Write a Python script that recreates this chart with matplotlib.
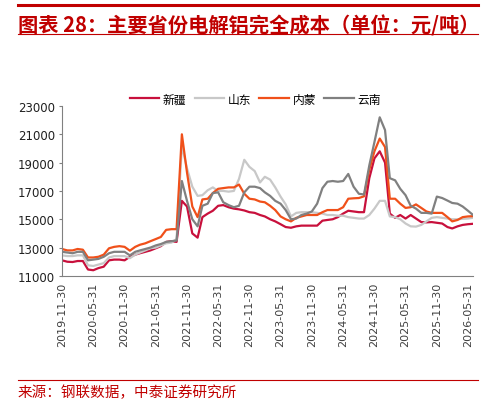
import matplotlib
matplotlib.use("Agg")
import matplotlib.pyplot as plt
import pandas as pd

plt.rcParams['font.family'] = ['Noto Sans CJK SC', 'DejaVu Sans']

# monthly cost, yuan/ton, 2019-11 .. 2026-06
dates = pd.date_range('2019-11-30', periods=80, freq='ME')

xinjiang = [12100, 12000, 11980, 12050, 12050, 11450, 11400, 11550, 11650, 12100,
            12150, 12150, 12100, 12350, 12500, 12600, 12700, 12800, 12950, 13100,
            13400, 13450, 13400, 16300, 15900, 14000, 13700, 15150, 15400, 15600,
            15950, 16000, 15850, 15750, 15700, 15620, 15500, 15450, 15300, 15200,
            15000, 14850, 14650, 14450, 14400, 14500, 14550, 14550, 14550, 14550,
            14900, 14950, 15000, 15150, 15400, 15600, 15550, 15500, 15500, 17900,
            19300, 19800, 19000, 15400, 15100, 15300, 15050, 15300, 15050, 14800,
            14780, 14800, 14750, 14700, 14450, 14350, 14500, 14600, 14650, 14680]

shandong = [12450, 12400, 12400, 12450, 12450, 11750, 11700, 11800, 11900, 12300,
            12400, 12400, 12400, 12250, 12500, 12650, 12800, 12950, 13000, 13150,
            13300, 13350, 13600, 20200, 18600, 17300, 16650, 16700, 17050, 17250,
            17000, 17000, 16950, 17000, 17850, 19200, 18700, 18400, 17600, 18000,
            17800, 17250, 16600, 16050, 15200, 15450, 15500, 15500, 15500, 15450,
            15400, 15300, 15300, 15250, 15250, 15150, 15100, 15050, 15050, 15300,
            15750, 16300, 16300, 15200, 15150, 15000, 14700, 14500, 14480, 14600,
            14850, 15100, 15150, 15100, 15050, 15000, 15000, 15030, 15050, 15100]

neimeng = [12900, 12800, 12800, 12900, 12850, 12300, 12300, 12350, 12500, 12950,
           13050, 13100, 13050, 12780, 13050, 13200, 13300, 13450, 13600, 13750,
           14250, 14300, 14300, 21000, 18300, 15900, 15150, 16400, 16450, 16850,
           17150, 17200, 17250, 17250, 17450, 16800, 16450, 16400, 16250, 16200,
           15950, 15650, 15200, 15000, 14850, 15100, 15200, 15300, 15300, 15300,
           15500, 15650, 15650, 15650, 15850, 16450, 16480, 16500, 16620, 18500,
           19800, 20700, 20100, 16450, 16450, 16100, 15800, 15850, 16050, 15800,
           15550, 15450, 15450, 15450, 15150, 14850, 14950, 15150, 15200, 15220]

yunnan = [12700, 12650, 12600, 12700, 12700, 12100, 12150, 12200, 12350, 12600,
          12700, 12700, 12700, 12450, 12700, 12800, 12900, 13000, 13150, 13250,
          13400, 13450, 13500, 17700, 16300, 15000, 14500, 15950, 16100, 16850,
          16900, 16200, 16000, 15850, 15950, 16900, 17300, 17300, 17200, 16900,
          16650, 16300, 16100, 15650, 15000, 15050, 15300, 15400, 15550, 16100,
          17200, 17650, 17700, 17650, 17700, 18200, 17300, 16800, 16750, 18800,
          20450, 22200, 21300, 17900, 17750, 17150, 16700, 15950, 15750, 15450,
          15450, 15400, 16600, 16500, 16320, 16150, 16100, 15900, 15600, 15300]

names = ['新疆', '山东', '内蒙', '云南']
colors = ['#C8103C', '#C8C8C8', '#F0501A', '#808080']

fig = plt.figure(figsize=(4.98, 4.06), dpi=100)
ax = fig.add_axes([0.1245, 0.318, 0.8255, 0.4185])

for vals, name, c in zip([xinjiang, shandong, neimeng, yunnan], names, colors):
    ax.plot(dates, vals, color=c, lw=1.6, label=name)

ax.set_ylim(11000, 23000)
ax.set_yticks(range(11000, 23001, 2000))
ax.set_xlim(pd.Timestamp('2019-11-30'), pd.Timestamp('2026-06-30'))
ticks = pd.date_range('2019-11-30', '2026-05-31', freq='6ME')
ax.set_xticks(ticks)
ax.set_xticklabels([d.strftime('%Y-%m-%d') for d in ticks], rotation=90,
                   fontsize=8, color='#404040', family='DejaVu Sans')
for lab in ax.get_yticklabels():
    lab.set_fontsize(8.5)
    lab.set_color('#202020')
    lab.set_family('DejaVu Sans')

for s in ['top', 'right']:
    ax.spines[s].set_visible(False)
ax.spines['left'].set_color('#808080')
ax.spines['bottom'].set_color('#808080')
ax.tick_params(axis='y', length=2, color='#808080', pad=3)
ax.tick_params(axis='x', length=0, pad=4)

ax.legend(loc='lower center', bbox_to_anchor=(0.47, 0.94), ncol=4, frameon=False,
          fontsize=8.5, handlelength=2.5, columnspacing=0.7, handletextpad=0.3)

# header / footer decoration
red = '#C00000'
fig.add_artist(plt.Line2D([0.036, 0.96], [0.985, 0.985], color=red, lw=2.2))
fig.add_artist(plt.Line2D([0.036, 0.96], [0.913, 0.913], color=red, lw=0.8))
fig.text(0.036, 0.937, '图表 28：主要省份电解铝完全成本（单位：元/吨）', color=red,
         fontsize=14.6, fontweight='bold', style='italic', va='center')
fig.add_artist(plt.Line2D([0.036, 0.96], [0.062, 0.062], color=red, lw=0.8))
fig.text(0.036, 0.032, '来源：钢联数据，中泰证券研究所', color=red, fontsize=10.5, va='center')

plt.savefig('out.png', dpi=100)
